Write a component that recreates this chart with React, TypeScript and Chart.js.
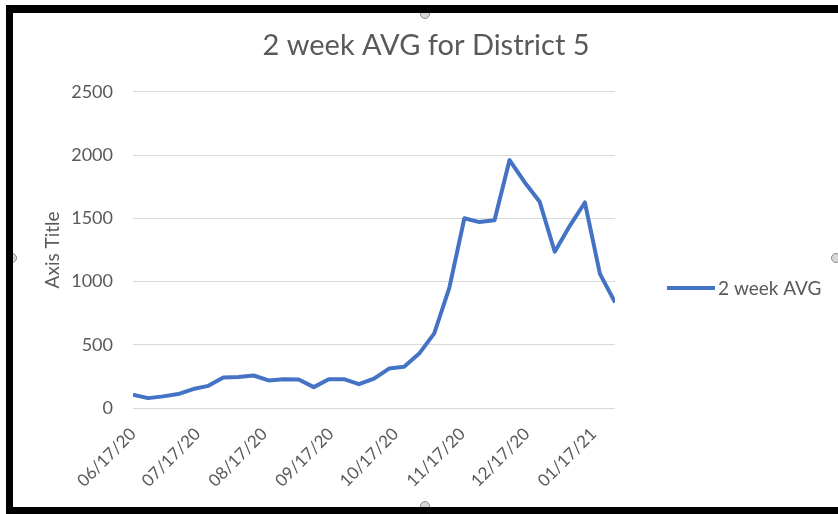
import React, { useEffect, useRef } from "react";
import { Chart, registerables } from "chart.js";

Chart.register(...registerables);

const chartTitle = "2 week AVG for District 5";
const seriesLabel = "2 week AVG";
const yAxisTitle = "Axis Title";

const weekDates = [
  "2020-06-17", "2020-06-24", "2020-07-01", "2020-07-08", "2020-07-15",
  "2020-07-22", "2020-07-29", "2020-08-05", "2020-08-12", "2020-08-19",
  "2020-08-26", "2020-09-02", "2020-09-09", "2020-09-16", "2020-09-23",
  "2020-09-30", "2020-10-07", "2020-10-14", "2020-10-21", "2020-10-28",
  "2020-11-04", "2020-11-11", "2020-11-18", "2020-11-25", "2020-12-02",
  "2020-12-09", "2020-12-16", "2020-12-23", "2020-12-30", "2021-01-06",
  "2021-01-13", "2021-01-20", "2021-01-27",
];

const avgValues = [
  105, 78, 92, 110, 150, 175, 242, 245, 257, 218,
  228, 225, 165, 228, 228, 188, 232, 312, 326, 430,
  590, 950, 1500, 1470, 1485, 1960, 1785, 1630, 1235, 1440,
  1625, 1060, 835,
];

const tickDates = [
  "2020-06-17", "2020-07-17", "2020-08-17", "2020-09-17",
  "2020-10-17", "2020-11-17", "2020-12-17", "2021-01-17",
];
const tickLabels = [
  "06/17/20", "07/17/20", "08/17/20", "09/17/20",
  "10/17/20", "11/17/20", "12/17/20", "01/17/21",
];

const yMin = 0;
const yMax = 2500;
const yStep = 500;

const DAY_MS = 86400000;
const dayNumber = (s: string) => {
  const [y, m, d] = s.split("-").map(Number);
  return Date.UTC(y, m - 1, d) / DAY_MS;
};
const origin = dayNumber(weekDates[0]);
const toX = (s: string) => dayNumber(s) - origin;

const TEXT = "#595959";
const GRID = "#D9D9D9";
const LINE = "#4472C4";
const FONT = "Lato, 'Open Sans', sans-serif";

const sideLegend = {
  id: "sideLegend",
  afterDraw(chart: any) {
    const { ctx, chartArea } = chart;
    const ds = chart.data.datasets[0];
    const x0 = chartArea.right + 52;
    const x1 = x0 + 48;
    const y = chartArea.bottom - 120;
    ctx.save();
    ctx.strokeStyle = ds.borderColor;
    ctx.lineWidth = 4;
    ctx.beginPath();
    ctx.moveTo(x0, y);
    ctx.lineTo(x1, y);
    ctx.stroke();
    ctx.fillStyle = TEXT;
    ctx.font = `19px ${FONT}`;
    ctx.textBaseline = "middle";
    ctx.textAlign = "left";
    ctx.fillText(ds.label, x1 + 3, y + 1);
    ctx.restore();
  },
};

export default function App() {
  const canvasRef = useRef<HTMLCanvasElement | null>(null);

  useEffect(() => {
    if (!canvasRef.current) return;
    const chart = new Chart(canvasRef.current, {
      type: "line",
      data: {
        datasets: [
          {
            label: seriesLabel,
            data: avgValues.map((v, i) => ({ x: toX(weekDates[i]), y: v })),
            borderColor: LINE,
            backgroundColor: LINE,
            borderWidth: 4,
            pointRadius: 0,
            tension: 0,
            borderJoinStyle: "round",
            yAxisID: "y",
          },
        ],
      },
      options: {
        animation: false,
        responsive: false,
        devicePixelRatio: 1,
        layout: { padding: { left: 14, top: 14, right: 0, bottom: 0 } },
        plugins: {
          legend: { display: false },
          tooltip: { enabled: false },
          title: {
            display: true,
            text: chartTitle,
            color: TEXT,
            font: { family: FONT, size: 29, weight: "normal" },
            padding: { top: 14, bottom: 29 },
          },
        },
        scales: {
          x: {
            type: "linear",
            min: toX(weekDates[0]),
            max: toX(weekDates[weekDates.length - 1]),
            afterBuildTicks: (scale: any) => {
              scale.ticks = tickDates.map((d) => ({ value: toX(d) }));
            },
            afterFit: (scale: any) => {
              scale.height = 106;
            },
            grid: { display: false },
            border: { display: false },
            ticks: {
              autoSkip: false,
              minRotation: 45,
              maxRotation: 45,
              padding: 8,
              color: TEXT,
              font: { family: FONT, size: 17 },
              callback: (_v: any, i: number) => tickLabels[i],
            },
          },
          y: {
            min: yMin,
            max: yMax,
            afterFit: (scale: any) => {
              scale.width = 119;
            },
            grid: { color: GRID, lineWidth: 1, drawTicks: false },
            border: { display: false },
            ticks: {
              stepSize: yStep,
              padding: 20,
              color: TEXT,
              font: { family: FONT, size: 18 },
              callback: (v: any) => String(v),
            },
            title: {
              display: true,
              text: yAxisTitle,
              color: TEXT,
              font: { family: FONT, size: 19, weight: "normal" },
              padding: { top: 27, bottom: 0 },
            },
          },
          legendSpace: {
            type: "linear",
            position: "right",
            display: true,
            afterFit: (scale: any) => {
              scale.width = 223;
            },
            grid: { display: false, drawTicks: false },
            border: { display: false },
            ticks: { display: false },
          },
        },
      },
      plugins: [sideLegend],
    } as any);
    return () => chart.destroy();
  }, []);

  const bar = (s: React.CSSProperties): React.CSSProperties => ({
    position: "absolute",
    background: "#000",
    zIndex: 2,
    ...s,
  });
  const handle = (left: number, top: number): React.CSSProperties => ({
    position: "absolute",
    left: left - 5,
    top: top - 5,
    width: 8,
    height: 8,
    borderRadius: "50%",
    border: "1px solid #8a8a8a",
    background: "#d8d8d8",
    zIndex: 1,
  });

  return (
    <div
      style={{
        position: "absolute",
        left: 0,
        top: 0,
        width: 838,
        height: 514,
        background: "#fff",
        overflow: "hidden",
      }}
    >
      <canvas
        ref={canvasRef}
        width={838}
        height={514}
        style={{ position: "absolute", left: 0, top: 0, width: 838, height: 514 }}
      />
      <div style={handle(425, 14)} />
      <div style={handle(425, 506)} />
      <div style={handle(12, 258)} />
      <div style={handle(836, 258)} />
      <div style={bar({ left: 6, top: 5, width: 832, height: 8 })} />
      <div style={bar({ left: 6, top: 5, width: 7, height: 509 })} />
      <div style={bar({ left: 6, top: 507, width: 832, height: 7 })} />
    </div>
  );
}
